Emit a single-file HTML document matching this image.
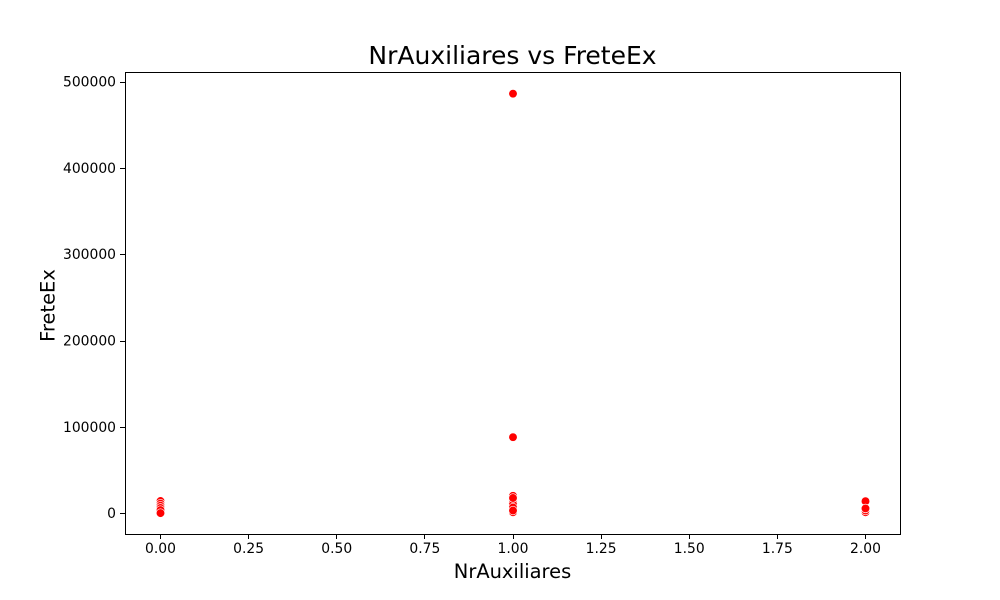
<!DOCTYPE html>
<html>
<head>
<meta charset="utf-8">
<style>
html,body{margin:0;padding:0;background:#fff;}
svg{display:block;}
text{font-family:"DejaVu Sans",sans-serif;fill:#000;}
</style>
</head>
<body>
<svg id="chart" width="1000" height="600" viewBox="0 0 1000 600" xmlns="http://www.w3.org/2000/svg">
<rect x="0" y="0" width="1000" height="600" fill="#fff"/>
<text x="512.5" y="64" font-size="25" text-anchor="middle">NrAuxiliares vs FreteEx</text>
<text x="512.5" y="578" font-size="19.44" text-anchor="middle">NrAuxiliares</text>
<text x="0" y="0" font-size="19.44" text-anchor="middle" transform="translate(54.5 305.5) rotate(-90)">FreteEx</text>
<g id="marks"></g>
<g id="ticks"></g>
<rect x="125.5" y="72.5" width="775" height="462" fill="none" stroke="#000" stroke-width="1"/>
</svg>
<script>
const xTickValues = [0, 0.25, 0.5, 0.75, 1, 1.25, 1.5, 1.75, 2];
const xTickLabels = ["0.00", "0.25", "0.50", "0.75", "1.00", "1.25", "1.50", "1.75", "2.00"];
const yTickValues = [0, 100000, 200000, 300000, 400000, 500000];
const yTickLabels = ["0", "100000", "200000", "300000", "400000", "500000"];
const nrAuxiliares = [0, 0, 0, 0, 0, 0, 1, 1, 1, 1, 1, 1, 1, 1, 1, 2, 2, 2, 2];
const freteEx = [14000, 11000, 8500, 6000, 3500, 0, 486000, 88000, 20000, 1000, 13000, 10000, 6500, 17500, 3000, 13800, 1000, 3000, 5400];

const NS = 'http://www.w3.org/2000/svg';
const xScale = function (v) { return 160.5 + v * 352.5; };
const yScale = function (v) { return 513.1 - v * 0.000863; };
const marks = document.getElementById('marks');
const ticks = document.getElementById('ticks');

nrAuxiliares.forEach(function (x, i) {
  const c = document.createElementNS(NS, 'circle');
  
  
  c.setAttribute('cx', xScale(x));
  c.setAttribute('cy', yScale(freteEx[i]));
  c.setAttribute('r', 4.3);
  c.setAttribute('fill', '#ff0000');
  c.setAttribute('stroke', '#ffffff');
  c.setAttribute('stroke-width', 0.67);
  marks.appendChild(c);
});

xTickValues.forEach(function (v, i) {
  const px = Math.floor(xScale(v)) + 0.5;
  const l = document.createElementNS(NS, 'line');
  
  
  l.setAttribute('x1', px);
  l.setAttribute('x2', px);
  l.setAttribute('y1', 534);
  l.setAttribute('y2', 539);
  l.setAttribute('stroke', '#000');
  l.setAttribute('stroke-width', 1);
  ticks.appendChild(l);
  const t = document.createElementNS(NS, 'text');
  
  
  t.setAttribute('x', xScale(v));
  t.setAttribute('y', 553);
  t.setAttribute('font-size', 13.89);
  t.setAttribute('text-anchor', 'middle');
  t.textContent = xTickLabels[i];
  ticks.appendChild(t);
});

yTickValues.forEach(function (v, i) {
  const py = Math.round(yScale(v)) + 0.5;
  const l = document.createElementNS(NS, 'line');
  
  
  l.setAttribute('x1', 120);
  l.setAttribute('x2', 125);
  l.setAttribute('y1', py);
  l.setAttribute('y2', py);
  l.setAttribute('stroke', '#000');
  l.setAttribute('stroke-width', 1);
  ticks.appendChild(l);
  const t = document.createElementNS(NS, 'text');
  
  
  t.setAttribute('x', 116);
  t.setAttribute('y', yScale(v) + 5);
  t.setAttribute('font-size', 13.89);
  t.setAttribute('text-anchor', 'end');
  t.textContent = yTickLabels[i];
  ticks.appendChild(t);
});
</script>
</body>
</html>
